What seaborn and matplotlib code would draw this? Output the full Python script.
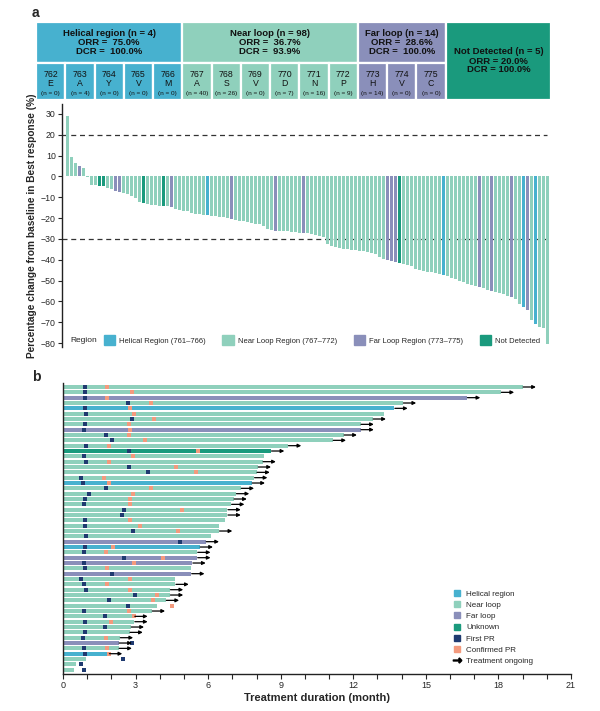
import numpy as np
import pandas as pd
import seaborn as sns
import matplotlib.pyplot as plt
from matplotlib.patches import Rectangle, Patch
from matplotlib.lines import Line2D

sns.set_style("white")
plt.rcParams['font.family'] = ['Liberation Sans', 'DejaVu Sans']

# ---- header (panel a) ----
region_names = ["Helical region", "Near loop", "Far loop", "Not Detected"]
region_n = [4, 98, 14, 5]
region_orr = [75.0, 36.7, 28.6, 20.0]
region_dcr = [100.0, 93.9, 100.0, 100.0]
region_sites = [5, 6, 3, 0]
site_pos = [762, 763, 764, 765, 766, 767, 768, 769, 770, 771, 772, 773, 774, 775]
site_aa = ["E", "A", "Y", "V", "M", "A", "S", "V", "D", "N", "P", "H", "V", "C"]
site_n = [0, 4, 0, 0, 0, 40, 26, 0, 7, 16, 9, 14, 0, 0]

# ---- waterfall (panel a) ----
best_change = [
    29.0, 9.2, 6.5, 5.2, 4.3, -0.4, -4.0, -4.2, -4.4, -4.8,
    -5.4, -6.1, -6.8, -7.5, -8.0, -8.6, -9.4, -10.4, -12.4, -12.7,
    -13.0, -13.5, -13.9, -14.0, -14.1, -14.3, -14.5, -15.8, -16.1, -16.4,
    -16.8, -17.4, -17.8, -18.2, -18.4, -18.6, -18.8, -19.0, -19.3, -19.6,
    -20.0, -20.6, -21.0, -21.3, -21.6, -22.0, -22.3, -22.6, -23.0, -24.0,
    -25.4, -25.8, -26.0, -26.1, -26.2, -26.4, -26.6, -26.8, -27.0, -27.1,
    -27.3, -27.5, -28.0, -28.6, -29.0, -32.4, -33.6, -34.0, -34.4, -34.7,
    -35.0, -35.3, -35.5, -35.7, -36.0, -36.3, -36.6, -37.0, -38.6, -39.4,
    -40.0, -40.6, -41.1, -41.7, -42.0, -42.4, -43.0, -44.3, -44.8, -45.2,
    -45.7, -46.0, -46.5, -46.8, -47.5, -48.0, -48.6, -49.4, -50.2, -50.8,
    -51.5, -52.0, -52.5, -53.0, -53.8, -54.3, -54.8, -55.5, -56.0, -56.5,
    -57.2, -58.0, -59.0, -61.4, -62.8, -64.3, -68.8, -71.0, -72.2, -73.0,
    -80.3,
]
best_region = ("NNNFNNNNDD" "NNFFNNNNND" "NNNNDNFNNN" "NNNNNHNNNN" "NFNNNNNNNN"
               "NNFNNNNNNF" "NNNNNNNNNN" "NNNNNNNNNN" "FFFDNNNNNN" "NNNNHNNNNN"
               "NNNFNNFNNN" "NFNNHFNHNN" "N")

# ---- swimmer (panel b) ----
duration = [19.0, 18.1, 16.7, 14.05, 13.7, 13.25, 12.8, 12.3, 12.3, 11.6,
            11.15, 9.3, 8.6, 8.3, 8.25, 8.05, 8.0, 7.9, 7.8, 7.35,
            7.15, 7.05, 6.95, 6.8, 6.8, 6.7, 6.45, 6.45, 6.1, 5.9,
            5.65, 5.55, 5.55, 5.35, 5.3, 5.3, 4.65, 4.65, 4.42, 4.42,
            4.25, 3.9, 3.67, 2.95, 2.95, 2.8, 2.75, 2.35, 2.3, 2.3,
            1.9, 0.95, 0.52, 0.47]
swim_region = ("NNFNHNNNFN" "NNDNNNNNHN" "NNNNNNNNNF" "HNFFNFNNNN"
               "NNNNNNNNFN" "HNNN")
first_pr = [0.9, 0.9, 0.9, 2.7, 0.9, 0.94, 2.84, 0.9, 0.87, 1.78,
            2.01, 0.97, 2.73, 0.87, 0.97, 2.73, 3.5, 0.76, 0.81, 1.78,
            1.06, 0.9, 0.87, 2.54, 2.44, 0.9, 0.9, 2.9, 0.94, 4.84,
            0.9, 0.87, 2.54, 0.87, 0.9, 2.01, 0.73, 0.87, 0.94, 2.98,
            1.92, 2.7, 0.87, 1.75, 0.9, 1.75, 0.9, 0.83, 2.84, 0.87,
            0.9, 2.48, 0.76, 0.87]
confirmed_pr = [1.83, 2.87, 1.83, 3.64, 2.76, 2.95, 3.77, 2.72, 2.79, 2.72,
                3.38, 1.89, 5.6, 2.91, 1.89, 4.66, 5.49, 1.71, 1.89, 3.64,
                2.88, 2.76, 2.76, 4.9, None, 2.76, 3.19, 4.77, None, None,
                2.07, 1.79, 4.14, 2.95, 1.83, None, 2.79, 1.83, 2.79, 3.9,
                3.71, 4.5, 2.72, 2.95, 2.0, None, None, 1.78, None, 1.83,
                1.89, None, None, None]
ongoing = [1, 1, 1, 1, 1, 0, 1, 1, 1, 1,
           1, 1, 1, 0, 1, 1, 1, 1, 1, 1,
           1, 1, 1, 1, 1, 0, 0, 1, 0, 1,
           1, 1, 1, 1, 0, 1, 0, 1, 1, 1,
           1, 0, 1, 1, 1, 1, 1, 1, 1, 1,
           1, 0, 0, 0]

c_hel, c_near, c_far, c_nd = "#47B1CF", "#8FD0BC", "#8A8FBA", "#1A9A7D"
c_first, c_conf = "#1F3A70", "#F39A7D"

wf_labels = {"H": "Helical Region (761\u2013766)", "N": "Near Loop Region (767\u2013772)",
             "F": "Far Loop Region (773\u2013775)", "D": "Not Detected"}
wf_palette = {wf_labels["H"]: c_hel, wf_labels["N"]: c_near,
              wf_labels["F"]: c_far, wf_labels["D"]: c_nd}
sw_labels = {"H": "Helical region", "N": "Near loop", "F": "Far loop", "D": "Unknown"}
sw_palette = {"Helical region": c_hel, "Near loop": c_near, "Far loop": c_far, "Unknown": c_nd}

W, H = 600, 711
fig = plt.figure(figsize=(W / 100, H / 100), dpi=100)


def px_axes(x0, y0, x1, y1):
    return fig.add_axes([x0 / W, 1 - y1 / H, (x1 - x0) / W, (y1 - y0) / H])


# header boxes
axh = px_axes(36, 22, 551, 100)
axh.set_xlim(0, 17.6)
axh.set_ylim(1, 0)
axh.axis("off")
box_colors = [c_hel, c_near, c_far, c_nd]
x = 0
k = 0
for i, name in enumerate(region_names):
    w = region_sites[i] if region_sites[i] else 3.6
    top_h = 0.52 if region_sites[i] else 1.0
    axh.add_patch(Rectangle((x, 0), w, top_h, facecolor=box_colors[i],
                            edgecolor="white", lw=1.6))
    if region_sites[i]:
        txt = f"{name} (n = {region_n[i]})\nORR =  {region_orr[i]:.1f}%\nDCR =  {region_dcr[i]:.1f}%"
    else:
        txt = f"{name} (n = {region_n[i]})\nORR = {region_orr[i]:.1f}%\nDCR = {region_dcr[i]:.1f}%"
    axh.text(x + w / 2, top_h / 2, txt, ha="center", va="center",
             fontsize=6.8, fontweight="bold", linespacing=1.0, color="#111111")
    for j in range(region_sites[i]):
        sx = x + j
        axh.add_patch(Rectangle((sx, 0.52), 1, 0.48, facecolor=box_colors[i],
                                edgecolor="white", lw=1.6))
        axh.text(sx + 0.5, 0.73, f"{site_pos[k]}\n{site_aa[k]}", ha="center",
                 va="center", fontsize=6.3, linespacing=0.9, color="#111111")
        axh.text(sx + 0.5, 0.92, f"(n = {site_n[k]})", ha="center", va="center",
                 fontsize=4.6, color="#111111")
        k += 1
    x += w

fig.text(32 / W, 1 - 13 / H, "a", fontsize=10, fontweight="bold", va="center")
fig.text(32 / W, 1 - 377 / H, "b", fontsize=10, fontweight="bold", va="center")

# waterfall
axw = px_axes(62, 104, 552, 347)
wf = pd.DataFrame({"pt": np.arange(len(best_change)), "change": best_change,
                   "region": [wf_labels[c] for c in best_region]})
for yv in (20, -30):
    axw.axhline(yv, xmin=0.0, xmax=0.99, color="#333333", lw=0.9,
                dashes=(4, 3), zorder=0.5)
sns.barplot(data=wf, x="pt", y="change", hue="region", palette=wf_palette,
            dodge=False, width=0.75, legend=False, ax=axw, linewidth=0,
            saturation=1, zorder=2)
axw.set_xlim(-1.375, 121.1)
axw.set_ylim(-81.9, 34.8)
axw.set_yticks(np.arange(-80, 31, 10))
axw.set_xticks([])
axw.set_xlabel("")
axw.set_ylabel("Percentage change from baseline in Best response (%)",
               fontsize=7.3, fontweight="bold", labelpad=3)
axw.tick_params(axis="y", labelsize=6.3, length=3, width=0.8, pad=1.5, direction="out", left=True)
for s in ("top", "right", "bottom"):
    axw.spines[s].set_visible(False)
axw.spines["left"].set_linewidth(1.0)
axw.spines["left"].set_color("#222222")
handles = [Patch(facecolor=wf_palette[wf_labels[c]], edgecolor=wf_palette[wf_labels[c]],
                 label=wf_labels[c]) for c in "HNFD"]
axw.text((70 - 62) / 490, (347 - 340) / 243, "Region", transform=axw.transAxes,
         fontsize=6, va="center")
axw.legend(handles=handles, loc="center left", bbox_to_anchor=(0.085, (347 - 340) / 243),
           ncol=4, frameon=False, fontsize=5.5, handlelength=1.5, handleheight=1.5,
           handletextpad=0.5, columnspacing=2.2, borderaxespad=0, borderpad=0)

# swimmer
axs = px_axes(63, 383, 571, 673.7)
sw = pd.DataFrame({"row": np.arange(len(duration)), "dur": duration,
                   "region": [sw_labels[c] for c in swim_region],
                   "first": first_pr,
                   "conf": [np.nan if v is None else v for v in confirmed_pr]})
sns.barplot(data=sw, x="dur", y="row", hue="region", palette=sw_palette, orient="h",
            dodge=False, width=0.75, legend=False, ax=axs, linewidth=0, saturation=1)
sns.scatterplot(data=sw, x="first", y="row", color=c_first, marker="s", s=9,
                linewidth=0, ax=axs, zorder=4)
sns.scatterplot(data=sw.dropna(subset=["conf"]), x="conf", y="row", color=c_conf,
                marker="s", s=9, linewidth=0, ax=axs, zorder=4)
for r, (d, on) in enumerate(zip(duration, ongoing)):
    if on:
        axs.annotate("", xy=(d + 0.55, r), xytext=(d + 0.02, r),
                     arrowprops=dict(arrowstyle="-|>", color="black", lw=0.9,
                                     mutation_scale=5, shrinkA=0, shrinkB=0), zorder=5)
axs.set_xlim(0, 21)
axs.set_ylim(53.75, -0.75)
axs.set_xticks(np.arange(0, 22, 3))
axs.set_xticks(np.arange(0, 22, 1), minor=True)
axs.set_yticks([])
axs.set_ylabel("")
axs.set_xlabel("Treatment duration (month)", fontsize=8, fontweight="bold", labelpad=2)
axs.tick_params(axis="x", which="both", length=3.5, width=0.8, labelsize=6.5, pad=2,
                direction="out", bottom=True)
for s in ("top", "right"):
    axs.spines[s].set_visible(False)
for s in ("left", "bottom"):
    axs.spines[s].set_linewidth(1.0)
    axs.spines[s].set_color("#222222")
sh = [Line2D([], [], marker="s", ls="none", color=col, markersize=4, label=lab)
      for lab, col in sw_palette.items()]
sh += [Line2D([], [], marker="s", ls="none", color=c_first, markersize=4, label="First PR"),
       Line2D([], [], marker="s", ls="none", color=c_conf, markersize=4, label="Confirmed PR"),
       Line2D([], [], marker=r"$\rightarrow$", ls="none", color="black", markersize=6,
              label="Treatment ongoing")]
axs.legend(handles=sh, loc="upper left", bbox_to_anchor=((452 - 63) / 508, (673.7 - 590) / 290.7),
           frameon=False, fontsize=5.8, handlelength=1.2, handletextpad=0.6,
           labelspacing=0.45, borderaxespad=0, borderpad=0)

fig.savefig("out.png", dpi=100)
